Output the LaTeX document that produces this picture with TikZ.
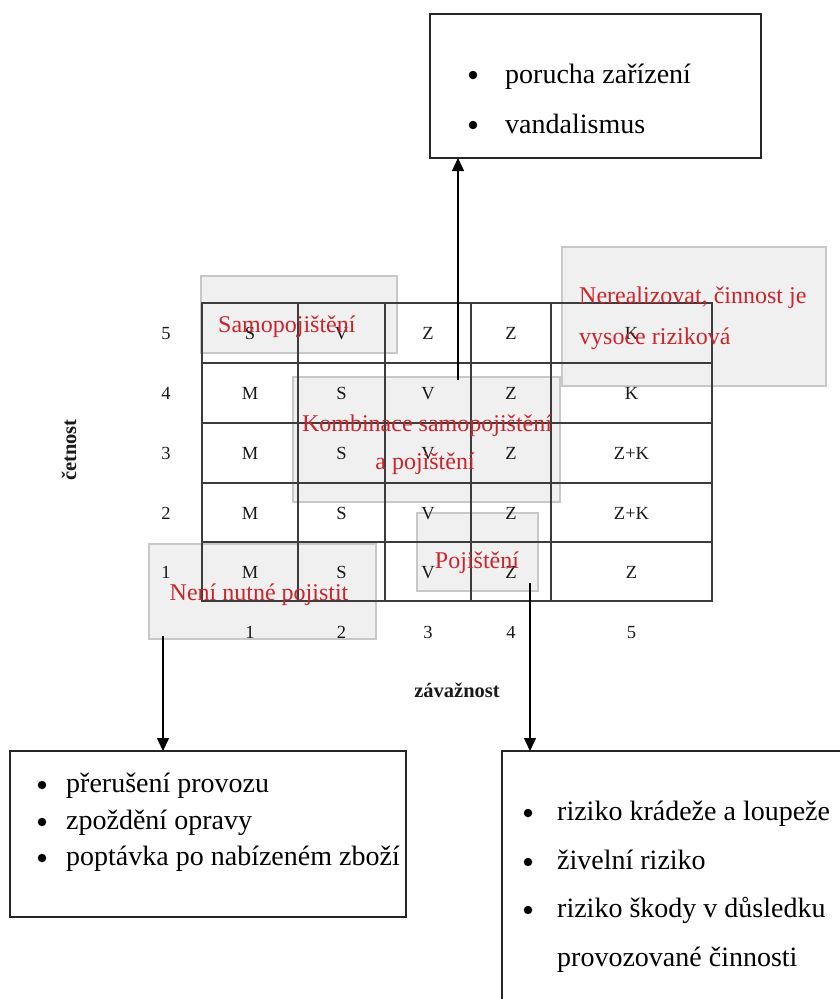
\documentclass[tikz,border=0pt]{standalone}
\usepackage{fontspec}
\setmainfont{Liberation Serif}
\usetikzlibrary{arrows.meta}
\definecolor{labred}{RGB}{204,36,44}
\definecolor{shade}{RGB}{240,240,240}
\definecolor{shadeedge}{RGB}{200,200,200}
\definecolor{gridc}{RGB}{60,60,60}
\begin{document}
\begin{tikzpicture}[x=1pt,y=-1pt,
  wbox/.style={draw=black!85,line width=1.4pt,fill=white,inner sep=0pt,outer sep=0pt},
  gbox/.style={draw=shadeedge,line width=1.3pt,fill=shade,inner sep=0pt,outer sep=0pt},
  listtxt/.style={anchor=base west,inner sep=0pt,font=\fontsize{28}{32}\selectfont},
  bul/.style={circle,fill=black,inner sep=0pt,minimum size=8.5pt},
  cell/.style={anchor=base,inner sep=0pt,text=black!90,font=\fontsize{18.5}{20}\selectfont},
  axislab/.style={inner sep=0pt,text=black!90,font=\bfseries\fontsize{20.5}{22}\selectfont},
  redlab/.style={anchor=base,inner sep=0pt,text=labred,font=\fontsize{24}{26}\selectfont},
  redlabw/.style={anchor=base west,inner sep=0pt,text=labred,font=\fontsize{24}{26}\selectfont},
  arr/.style={line width=1.4pt,-{Triangle[width=12pt,length=13pt]}}
]
\clip (0,0) rectangle (840,999);
\fill[white] (0,0) rectangle (840,999);

% list boxes
\node[wbox,minimum width=331pt,minimum height=144pt] (topbox) at (595.5,86) {};
\node[wbox,minimum width=396pt,minimum height=166pt] (blbox) at (208,834) {};
\node[wbox,minimum width=358pt,minimum height=269pt] (brbox) at (681,885.5) {};

% shaded regions
\node[gbox,minimum width=196pt,minimum height=77pt] (samo) at (299,314.5) {};
\node[gbox,minimum width=267pt,minimum height=125pt] (kombi) at (426.5,439.5) {};
\node[gbox,minimum width=264pt,minimum height=139pt] (nereal) at (694,316.5) {};
\node[gbox,minimum width=121pt,minimum height=78pt] (poj) at (477.5,552) {};
\node[gbox,minimum width=227pt,minimum height=95pt] (neni) at (262.5,591.5) {};

% grid
\draw[gridc,line width=1.4pt] (202,303) rectangle (712,601);
\foreach \yy in {363,423,483,542} \draw[gridc,line width=1.4pt] (202,\yy) -- (712,\yy);
\foreach \xx in {298,385,471,551} \draw[gridc,line width=1.4pt] (\xx,303) -- (\xx,601);

% cell contents
\foreach \r/\yb/\a/\b/\c/\d/\e in {5/339/S/V/Z/Z/K, 4/399/M/S/V/Z/K, 3/459/M/S/V/Z/Z+K, 2/519/M/S/V/Z/Z+K, 1/578/M/S/V/Z/Z}{
  \node[cell] (r\r) at (166,\yb) {\r};
  \node[cell] (c\r1) at (250,\yb) {\a};
  \node[cell] (c\r2) at (341.5,\yb) {\b};
  \node[cell] (c\r3) at (428,\yb) {\c};
  \node[cell] (c\r4) at (511,\yb) {\d};
  \node[cell] (c\r5) at (631.5,\yb) {\e};
}
\node[cell] (k1) at (250,638) {1};
\node[cell] (k2) at (341.5,638) {2};
\node[cell] (k3) at (428,638) {3};
\node[cell] (k4) at (511,638) {4};
\node[cell] (k5) at (631.5,638) {5};

% axis labels
\node[axislab,anchor=base] (zav) at (457,697) {závažnost};
\node[axislab,rotate=90,anchor=center] (cet) at (69,450) {četnost};

% red labels
\node[redlabw] (lsamo) at (218,332) {Samopojištění};
\node[redlab] (lkom1) at (427,431) {Kombinace samopojištění};
\node[redlab] (lkom2) at (425,469) {a pojištění};
\node[redlabw] (lner1) at (579,303) {Nerealizovat, činnost je};
\node[redlabw] (lner2) at (579,344) {vysoce riziková};
\node[redlab] (lpoj) at (477,568) {Pojištění};
\node[redlab] (lneni) at (259,600) {Není nutné pojistit};

% list texts
\node[bul] (tb1) at (473,75) {};
\node[listtxt] (tt1) at (505,83) {porucha zařízení};
\node[bul] (tb2) at (473,125) {};
\node[listtxt] (tt2) at (505,133) {vandalismus};

\node[bul] (lb1) at (42,785) {};
\node[listtxt] (lt1) at (66,792) {přerušení provozu};
\node[bul] (lb2) at (42,822) {};
\node[listtxt] (lt2) at (66,829) {zpoždění opravy};
\node[bul] (lb3) at (42,858) {};
\node[listtxt] (lt3) at (66,865) {poptávka po nabízeném zboží};

\node[bul] (rb1) at (528,813) {};
\node[listtxt] (rt1) at (557,820) {riziko krádeže a loupeže};
\node[bul] (rb2) at (528,862) {};
\node[listtxt] (rt2) at (557,869) {živelní riziko};
\node[bul] (rb3) at (528,910) {};
\node[listtxt] (rt3) at (557,917) {riziko škody v důsledku};
\node[listtxt] (rt4) at (557,966) {provozované činnosti};

% arrows
\coordinate (a1s) at (458,380);
\coordinate (a2s) at (163,636);
\coordinate (a3s) at (530,583);
\draw[arr] (a1s) -- (a1s |- topbox.south);
\draw[arr] (a2s) -- (a2s |- blbox.north);
\draw[arr] (a3s) -- (a3s |- brbox.north);
\end{tikzpicture}
\end{document}
